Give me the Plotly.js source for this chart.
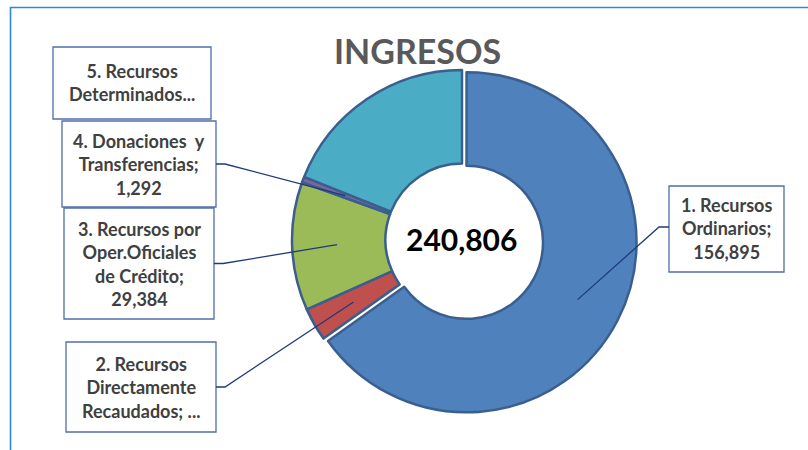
<!DOCTYPE html>
<html>
<head>
<meta charset="utf-8">
<script src="https://cdn.plot.ly/plotly-3.0.1.min.js"></script>
<style>html,body{margin:0;padding:0;background:#fff;}#chart{width:808px;height:450px;}</style>
</head>
<body>
<div id="chart"></div>
<script>
// ---- data ----
const categories = [
  "1. Recursos Ordinarios",
  "2. Recursos Directamente Recaudados",
  "3. Recursos por Oper.Oficiales de Crédito",
  "4. Donaciones y Transferencias",
  "5. Recursos Determinados"
];
const values = [156895, 7600, 29384, 1292, 45635];
const labelTexts = [
  "1. Recursos<br>Ordinarios;<br>156,895",
  "2. Recursos<br>Directamente<br>Recaudados; ...",
  "3. Recursos por<br>Oper.Oficiales<br>de Crédito;<br>29,384",
  "4. Donaciones  y<br>Transferencias;<br>1,292",
  "5. Recursos<br>Determinados..."
];
const centerText = "240,806";
const chartTitle = "INGRESOS";

// ---- styling / layout ----
const colors = ["#4F81BD", "#C0504D", "#9BBB59", "#8064A2", "#4BACC6"];
const pulls = [0.03, 0, 0, 0, 0];
const W = 808, H = 450;
const cx = 462, cy = 240, R = 170;
const half = R * (1 + Math.max(...pulls));
const px = x => x / W;
const py = y => 1 - y / H;

// label boxes: [left, top, width, height] in px
const boxes = [
  [669, 186, 115, 86],
  [66, 342, 150, 90],
  [64, 208, 150, 111],
  [62, 121, 154, 86],
  [53, 47, 158, 72]
];
const showLeader = [true, true, true, true, false];

const total = values.reduce((a, b) => a + b, 0);
const shapes = [];
const annotations = [];
let cum = 0;
values.forEach((v, i) => {
  const mid = (cum + v / 2) / total * 2 * Math.PI;
  cum += v;
  const [bx, by, bw, bh] = boxes[i];
  // box
  shapes.push({
    type: "rect", xref: "paper", yref: "paper",
    x0: px(bx), x1: px(bx + bw), y0: py(by + bh), y1: py(by),
    line: {color: "#4F6FA8", width: 1.3}, fillcolor: "#ffffff"
  });
  annotations.push({
    xref: "paper", yref: "paper",
    x: px(bx + bw / 2), y: py(by + bh / 2),
    xanchor: "center", yanchor: "middle",
    text: labelTexts[i], showarrow: false,
    font: {family: "Lato, Carlito, 'Open Sans', sans-serif", size: 18, color: "#404040", weight: "bold"},
    align: "center"
  });
  if (showLeader[i]) {
    const off = pulls[i] * R;
    const rr = 125;
    const ex = cx + (rr + off) * Math.sin(mid);
    const ey = cy - (rr + off) * Math.cos(mid);
    const right = bx + bw / 2 > cx;
    const sx = right ? bx : bx + bw;
    const sy = by + bh / 2 + (i === 0 ? -2 : 0);
    const kx = right ? sx - 10 : sx + 9;
    shapes.push({
      type: "path", xref: "paper", yref: "paper",
      path: `M ${px(sx)} ${py(sy)} L ${px(kx)} ${py(sy)} L ${px(ex)} ${py(ey)}`,
      line: {color: "#1F3A7A", width: 1.3}
    });
  }
});

// frame lines
shapes.push({
  type: "path", xref: "paper", yref: "paper",
  path: `M ${px(10.5)} ${py(452)} L ${px(10.5)} ${py(7.5)} L ${px(810)} ${py(7.5)}`,
  line: {color: "#2E86DE", width: 1.6}
});

annotations.push({
  xref: "paper", yref: "paper", x: px(cx), y: py(cy - 1),
  xanchor: "center", yanchor: "middle", showarrow: false,
  text: centerText,
  font: {family: "Lato, Carlito, sans-serif", size: 30, color: "#000000", weight: "bold"}
});
annotations.push({
  xref: "paper", yref: "paper", x: px(417), y: py(50),
  xanchor: "center", yanchor: "middle", showarrow: false,
  text: chartTitle,
  font: {family: "Lato, Carlito, sans-serif", size: 34, color: "#595959", weight: "bold"}
});

const trace = {
  type: "pie",
  labels: categories,
  values: values,
  sort: false,
  direction: "clockwise",
  rotation: 0,
  hole: 0.45,
  pull: pulls,
  textinfo: "none",
  hoverinfo: "label+value",
  marker: {colors: colors, line: {color: "#3A5F8E", width: 2.5}},
  domain: {x: [px(cx - half), px(cx + half)], y: [py(cy + half), py(cy - half)]},
  showlegend: false
};

Plotly.newPlot("chart", [trace], {
  width: W, height: H,
  margin: {l: 0, r: 0, t: 0, b: 0},
  paper_bgcolor: "#ffffff",
  showlegend: false,
  shapes: shapes,
  annotations: annotations
}, {displayModeBar: false, staticPlot: true});
</script>
</body>
</html>
